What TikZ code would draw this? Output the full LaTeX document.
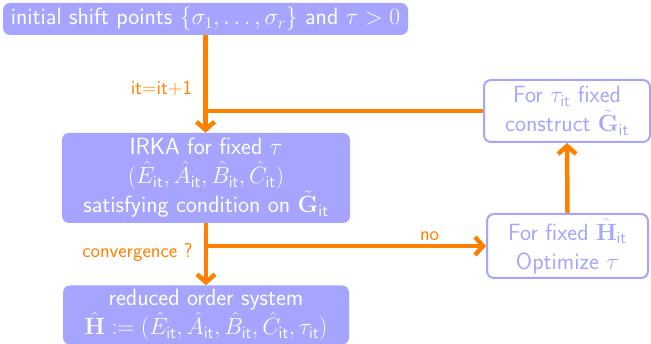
\RequirePackage{fix-cm}
\documentclass[tikz,border=0pt]{standalone}
\usepackage{amsmath,amssymb}
\usepackage{tikz}
\usetikzlibrary{positioning,arrows.meta,calc}
\definecolor{irkablue}{RGB}{165,165,255}
\definecolor{irkaorange}{RGB}{255,128,0}
\newcommand{\itx}{\mathsf{it}}

\begin{document}
\begin{tikzpicture}[
    x=1pt, y=-1pt,
    box/.style={rounded corners=7pt, align=center, inner sep=2pt,
                font=\fontsize{23.5}{29}\selectfont\sffamily},
    filled/.style={box, fill=irkablue, text=white},
    framed/.style={box, draw=irkablue, line width=2pt, fill=white, text=irkablue},
    arr/.style={-{Straight Barb[length=8pt, width=18pt]}, line width=4.5pt, irkaorange},
    ln/.style={line width=4.5pt, irkaorange},
    lbl/.style={font=\fontsize{20}{24}\selectfont\sffamily, text=irkaorange},
]
\useasboundingbox (0,0) rectangle (651,344);
% ---- main column ----
\node[filled, minimum width=405pt, minimum height=32pt] (init) at (205.5,19)
    {initial shift points $\{\sigma_1,\ldots,\sigma_r\}$ and $\tau>0$};
\node[filled, minimum width=288pt, minimum height=90pt] (irka) at (206,178)
    {IRKA for fixed $\tau$\\
     $(\hat{E}_{\itx},\hat{A}_{\itx},\hat{B}_{\itx},\hat{C}_{\itx})$\\
     satisfying condition on $\tilde{\mathbf{G}}_{\itx}$};
\node[filled, minimum width=286pt, minimum height=59pt] (rom) at (206,315)
    {reduced order system\\
     $\hat{\mathbf{H}}:=(\hat{E}_{\itx},\hat{A}_{\itx},\hat{B}_{\itx},\hat{C}_{\itx},\tau_{\itx})$};

% ---- right column ----
\node[framed, minimum width=166pt, minimum height=62pt] (constr) at (567,111)
    {For $\tau_{\itx}$ fixed\\construct $\tilde{\mathbf{G}}_{\itx}$};
\node[framed, minimum width=161pt, minimum height=64pt] (opt) at (567.5,246)
    {For fixed $\hat{\mathbf{H}}_{\itx}$\\Optimize $\tau$};

% ---- connectors ----
\draw[arr] (init.south) -- node[lbl, left, pos=0.55, xshift=-8pt]{it=it+1} (init.south |- irka.north);
\draw[ln] (constr.west) -- (constr.west -| init.south);
\draw[arr] (irka.south) -- node[lbl, left, pos=0.48, xshift=-8pt]{convergence ?} (rom.north);
\coordinate (branch) at (irka.south |- opt.west);
\draw[arr] ($(branch)+(-2.25,0)$) -- node[lbl, above, pos=0.8]{no} (opt.west);
\draw[arr] (opt.north) -- (constr.south);
\end{tikzpicture}
\end{document}
